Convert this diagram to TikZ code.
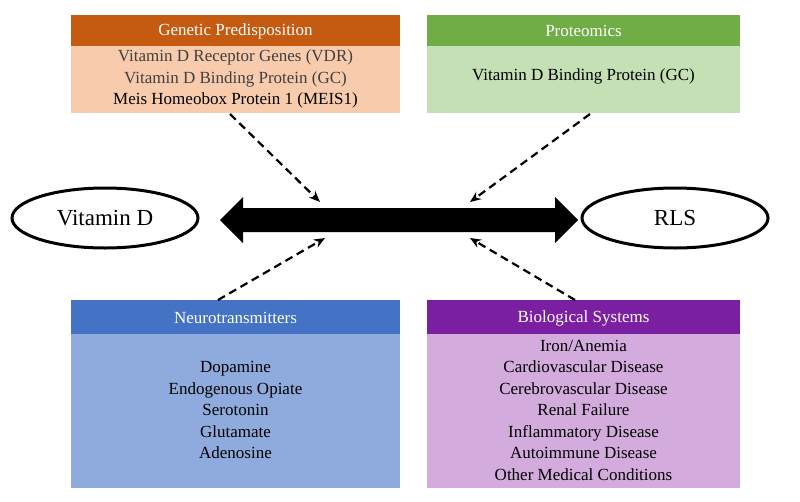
\documentclass[tikz,border=0pt]{standalone}
\usepackage{fontspec}
\setmainfont{Liberation Serif}
\usetikzlibrary{shapes.geometric,arrows.meta}
\begin{document}
\begin{tikzpicture}[x=1pt,y=-1pt,
  hdr/.style={draw=none,minimum height=31pt,text=white,font=\fontsize{17}{20}\selectfont,inner sep=0pt},
  body/.style={draw=none,inner sep=0pt,align=center,font=\fontsize{17}{21.5}\selectfont},
  ell/.style={draw,line width=3pt,ellipse,minimum width=186pt,minimum height=60pt,font=\fontsize{23}{26}\selectfont},
  dasharr/.style={line width=2.2pt,dash pattern=on 8pt off 5pt,-{Stealth[length=11pt,width=9pt]}}]
\useasboundingbox (0,0) rectangle (800,501);
\definecolor{oh}{HTML}{C55A11}\definecolor{ob}{HTML}{F8CBAD}
\definecolor{gh}{HTML}{70AD47}\definecolor{gb}{HTML}{C5E0B4}
\definecolor{bh}{HTML}{4472C4}\definecolor{bb}{HTML}{8FAADC}
\definecolor{ph}{HTML}{7B1FA2}\definecolor{pb}{HTML}{D3ABDD}
\definecolor{tg}{HTML}{404040}
% boxes
\fill[oh] (71,15) rectangle (400,46); \fill[ob] (71,46) rectangle (400,113);
\fill[gh] (427,15) rectangle (740,46); \fill[gb] (427,46) rectangle (740,113);
\fill[bh] (71,300) rectangle (400,334); \fill[bb] (71,334) rectangle (400,488);
\fill[ph] (427,300) rectangle (740,334); \fill[pb] (427,334) rectangle (740,488);
\node[hdr] (h1) at (235.5,31) {Genetic Predisposition};
\node[hdr] (h2) at (583.5,31) {Proteomics};
\node[hdr] (h3) at (235.5,318) {Neurotransmitters};
\node[hdr] (h4) at (583.5,318) {Biological Systems};
\node[body] (b1) at (235.5,79) {\textcolor{tg}{Vitamin D Receptor Genes (VDR)}\\\textcolor{tg}{Vitamin D Binding Protein (GC)}\\Meis Homeobox Protein 1 (MEIS1)};
\node[body] (b2) at (583.5,76) {Vitamin D Binding Protein (GC)};
\node[body] (b3) at (235.5,410) {Dopamine\\Endogenous Opiate\\Serotonin\\Glutamate\\Adenosine};
\node[body] (b4) at (583.5,410) {Iron/Anemia\\Cardiovascular Disease\\Cerebrovascular Disease\\Renal Failure\\Inflammatory Disease\\Autoimmune Disease\\Other Medical Conditions};
\node[ell] (vd) at (105,218) {Vitamin D};
\node[ell] (rls) at (675,218) {RLS};
% double arrow
\coordinate (la) at (220,220); \coordinate (ra) at (578,220);
\fill (la) -- (243,197) -- (243,208) -- (555,208) -- (555,197) -- (ra) -- (555,243) -- (555,232) -- (243,232) -- (243,243) -- cycle;
% dashed arrows
\coordinate (s1) at (230,114); \coordinate (e1) at (320,202);
\coordinate (s2) at (590,114); \coordinate (e2) at (470,202);
\coordinate (s3) at (218,300); \coordinate (e3) at (325,238);
\coordinate (s4) at (575,300); \coordinate (e4) at (470,238);
\draw[dasharr] (s1) -- (e1);
\draw[dasharr] (s2) -- (e2);
\draw[dasharr] (s3) -- (e3);
\draw[dasharr] (s4) -- (e4);
\end{tikzpicture}
\end{document}
